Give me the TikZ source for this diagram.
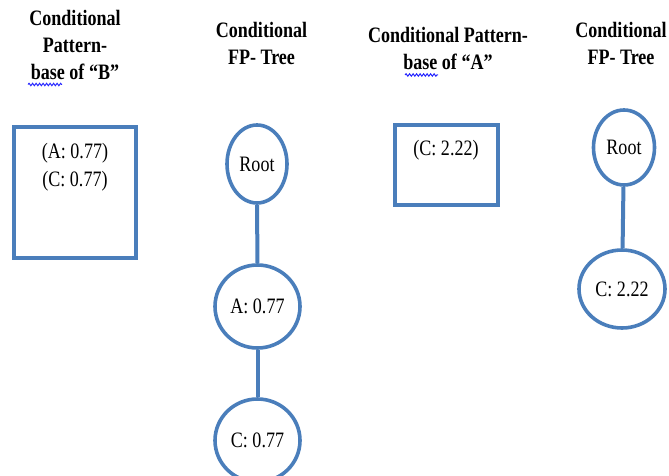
\documentclass[tikz,border=0pt]{standalone}
\usepackage{fontspec}
\setmainfont{Liberation Serif}[FakeStretch=0.82]
\usetikzlibrary{shapes.geometric,decorations.pathmorphing}
\definecolor{wordblue}{RGB}{74,126,187}
\tikzset{
	heading/.style={font=\bfseries\fontsize{22}{27}\selectfont, align=center, anchor=base, inner sep=0pt},
	entry/.style={font=\fontsize{22}{28}\selectfont, align=center, anchor=base, inner sep=0pt},
	patbox/.style={draw=wordblue, line width=4pt, rectangle, inner sep=0pt},
	treenode/.style={draw=wordblue, line width=3.6pt, ellipse, inner sep=0pt, font=\fontsize{22}{27}\selectfont},
	treeedge/.style={draw=wordblue, line width=4pt},
	spellmark/.style={draw=blue!85, line width=1pt, decorate, decoration={snake, segment length=3.5pt, amplitude=1.2pt}}
}
\begin{document}
\begin{tikzpicture}[x=1pt, y=-1pt]
	\useasboundingbox (0,0) rectangle (669,476);

	% pattern base of B (base anchor sits on the last line)
	\node[heading] (headB) at (75,80) {Conditional\\Pattern-\\base of “B”};
	\draw[spellmark] (28,84.5) -- (62,84.5);
	\node[patbox, minimum width=122, minimum height=131] (boxB) at (75,192.5) {};
	\node[entry] (itemsB) at (75,186) {(A: 0.77)\\(C: 0.77)};

	% tree for B
	\node[heading] (headtreeB) at (261.5,65) {Conditional\\FP- Tree};
	\node[treenode, minimum width=60, minimum height=78] (rootB) at (257,164) {Root};
	\node[treenode, minimum width=85, minimum height=83] (aB) at (257.5,306.5) {A: 0.77};
	\node[treenode, minimum width=85, minimum height=83] (cB) at (257.5,440.5) {C: 0.77};
	\draw[treeedge] (rootB) -- (aB);
	\draw[treeedge] (aB) -- (cB);

	% pattern base of A
	\node[heading] (headA) at (448,70) {Conditional Pattern-\\base of “A”};
	\draw[spellmark] (405,75) -- (438,75);
	\node[patbox, minimum width=103, minimum height=80] (boxA) at (446.5,165) {};
	\node[entry] (itemsA) at (446,155) {(C: 2.22)};

	% tree for A
	\node[heading] (headtreeA) at (621,65) {Conditional\\FP- Tree};
	\node[treenode, minimum width=61, minimum height=75] (rootA) at (624,147.5) {Root};
	\node[treenode, minimum width=86, minimum height=78] (cA) at (622,289) {C: 2.22};
	\draw[treeedge] (rootA) -- (cA);
\end{tikzpicture}
\end{document}
